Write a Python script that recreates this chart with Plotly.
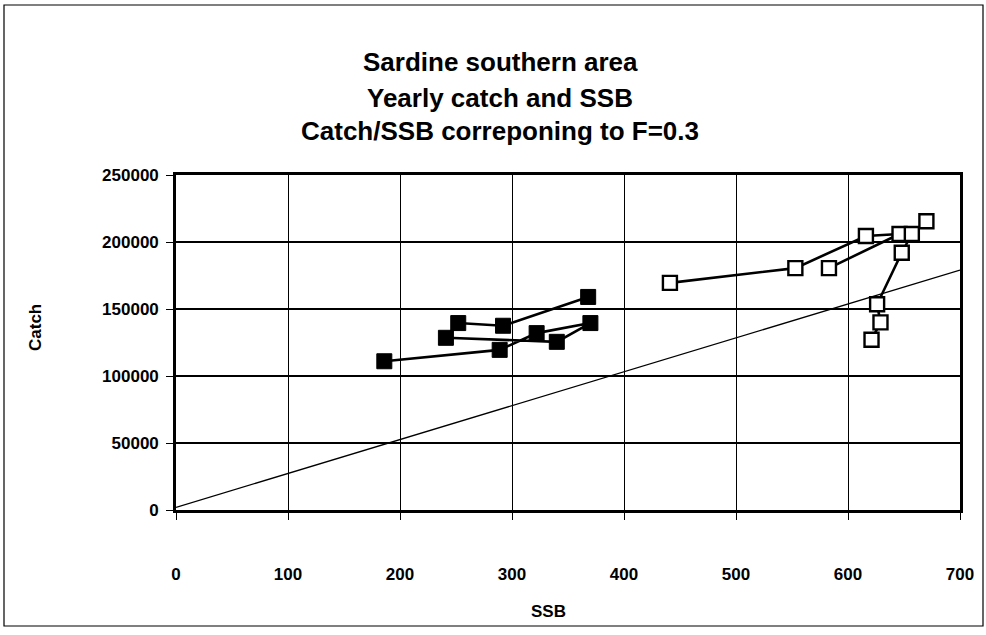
import plotly.graph_objects as go

# Yearly SSB (x) and catch (y), filled-square series
ssb_filled = [186, 289, 322, 370, 340, 241, 252, 292, 368]
catch_filled = [111000, 119500, 132000, 139500, 125500, 128500, 139500, 137500, 159000]

# Open-square series, drawn as two connected runs
ssb_open_a = [441, 553, 616, 646, 583]
catch_open_a = [169500, 180500, 204500, 206000, 180500]
ssb_open_b = [621, 629, 626, 648, 657, 670]
catch_open_b = [127000, 140000, 153500, 192000, 206000, 215500]

# Catch/SSB reference line for F=0.3
ssb_ref = [0, 700]
catch_ref = [2000, 179000]

title_lines = ["Sardine southern area", "Yearly catch and SSB", "Catch/SSB correponing to F=0.3"]

W, H = 986, 635
L, R, T, B = 176, 26, 175, 125
PW, PH = W - L - R, H - T - B


def px(x):
    return (x - L) / PW


def py(y):
    return (H - B - y) / PH


FONT = "Liberation Sans"

fig = go.Figure()

fig.add_trace(go.Scatter(
    x=ssb_ref, y=catch_ref, mode="lines",
    line=dict(color="black", width=1.3), showlegend=False, hoverinfo="skip"))

for xs, ys in [(ssb_open_a, catch_open_a), (ssb_open_b, catch_open_b)]:
    fig.add_trace(go.Scatter(
        x=xs, y=ys, mode="lines+markers",
        line=dict(color="black", width=2.6),
        marker=dict(symbol="square", size=14, color="white",
                    line=dict(color="black", width=2.4)),
        showlegend=False))

fig.add_trace(go.Scatter(
    x=ssb_filled, y=catch_filled, mode="lines+markers",
    line=dict(color="black", width=2.6),
    marker=dict(symbol="square", size=15, color="black",
                line=dict(color="black", width=1)),
    showlegend=False))

axis_common = dict(
    showgrid=True, gridcolor="black",
    showline=True, linecolor="black", linewidth=2.6, mirror=True,
    ticks="outside", ticklen=7, tickwidth=1.3, tickcolor="black",
    zeroline=False,
    tickfont=dict(family=FONT, size=17, color="black", weight="bold"),
)

fig.update_xaxes(range=[0, 700], dtick=100, tick0=0, gridwidth=1.4,
                 ticklabelstandoff=40, **axis_common)
fig.update_yaxes(range=[0, 250000], dtick=50000, tick0=0, tickformat="d",
                 gridwidth=1.8, ticklabelstandoff=4, **axis_common)

annotations = []
for text, yc in zip(title_lines, [62, 98, 131]):
    annotations.append(dict(
        text=f"<b>{text}</b>", x=px(500), y=py(yc), xref="paper", yref="paper",
        showarrow=False, xanchor="center", yanchor="middle",
        font=dict(family=FONT, size=26, color="black")))
annotations.append(dict(
    text="<b>Catch</b>", x=px(35), y=py(328), xref="paper", yref="paper",
    showarrow=False, textangle=-90, xanchor="center", yanchor="middle",
    font=dict(family=FONT, size=17, color="black")))
annotations.append(dict(
    text="<b>SSB</b>", x=px(548), y=py(611), xref="paper", yref="paper",
    showarrow=False, xanchor="center", yanchor="middle",
    font=dict(family=FONT, size=17, color="black")))

# outer chart-area frame
shapes = [dict(type="rect", xref="paper", yref="paper",
               x0=px(4), x1=px(983), y0=py(626), y1=py(5),
               line=dict(color="black", width=1.2))]

fig.update_layout(
    width=W, height=H,
    margin=dict(l=L, r=R, t=T, b=B),
    paper_bgcolor="white", plot_bgcolor="white",
    annotations=annotations, shapes=shapes,
    showlegend=False,
)

fig.write_html("out.html")
